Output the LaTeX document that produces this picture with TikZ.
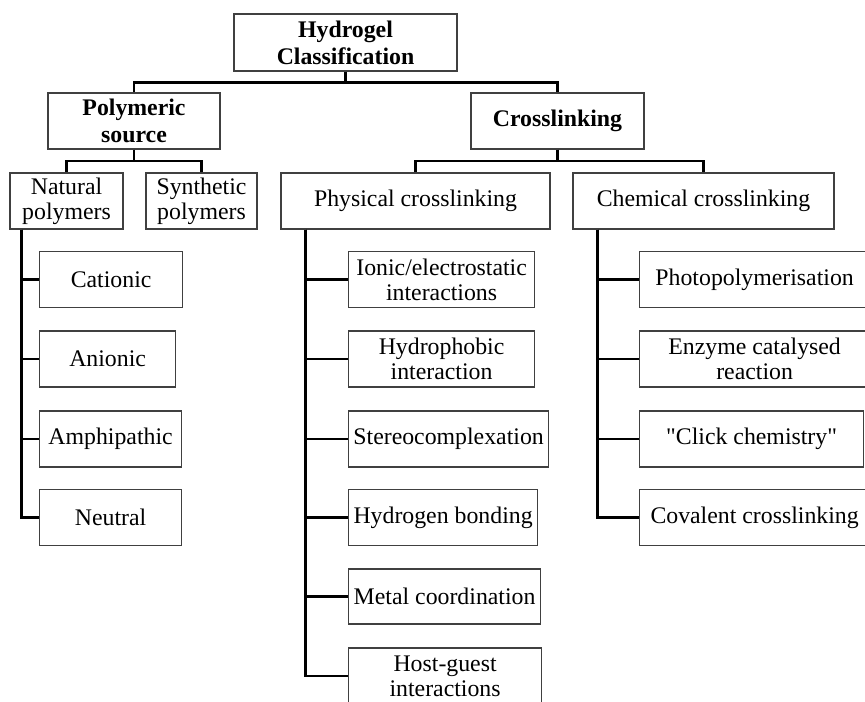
\documentclass[tikz,border=0pt]{standalone}
\usepackage{fontspec}
\setmainfont{Liberation Serif}[Ligatures=TeXOff]
\usetikzlibrary{positioning}

\begin{document}
\begin{tikzpicture}[x=0.5pt,y=-0.5pt,
  box/.style={draw=black!75,line width=0.6pt,align=center,inner sep=0pt,
    font=\fontsize{11.9}{12.6}\selectfont},
  head/.style={box,font=\fontsize{11.9}{13.4}\selectfont\bfseries},
  leaf/.style={box,anchor=west,minimum height=28pt},
  link/.style={line width=1.1pt,black}]
\useasboundingbox (0,0) rectangle (865,701);
\pgfmathsetmacro{\rowa}{279.5}
\pgfmathsetmacro{\rowb}{359}
\pgfmathsetmacro{\rowc}{439}
\pgfmathsetmacro{\rowd}{517.5}
% top levels
\node[head,minimum width=111.5pt,minimum height=28.5pt] (root) at (345.5,42.5) {Hydrogel\\Classification};
\node[head,minimum width=86pt,minimum height=28pt] (poly) at (134,121) {Polymeric\\source};
\node[head,minimum width=86.5pt,minimum height=28pt] (cross) at (557.5,121) {Crosslinking};
\node[box,minimum width=56.5pt,minimum height=28pt] (nat) at (66.5,201) {Natural\\polymers};
\node[box,minimum width=55.5pt,minimum height=28pt] (syn) at (201.5,201) {Synthetic\\polymers};
\node[box,minimum width=134.5pt,minimum height=28pt] (phys) at (415.5,201) {Physical crosslinking};
\node[box,minimum width=130.5pt,minimum height=28pt] (chem) at (703.5,201) {Chemical crosslinking};
% natural polymers
\node[leaf,minimum width=71.5pt] (cat) at (39,\rowa) {Cationic};
\node[leaf,minimum width=68pt] (ani) at (39,\rowb) {Anionic};
\node[leaf,minimum width=71pt] (amp) at (39,\rowc) {Amphipathic};
\node[leaf,minimum width=71pt] (neu) at (39,\rowd) {Neutral};
% physical crosslinking
\node[leaf,minimum width=93pt] (ion) at (348,\rowa) {Ionic/electrostatic\\interactions};
\node[leaf,minimum width=93pt] (hyd) at (348,\rowb) {Hydrophobic\\interaction};
\node[leaf,minimum width=100pt] (ste) at (348,\rowc) {Stereocomplexation};
\node[leaf,minimum width=94.5pt] (hbo) at (348,\rowd) {Hydrogen bonding};
\node[leaf,minimum width=96pt,minimum height=27.5pt] (met) at (348,596.5) {Metal coordination};
\node[leaf,minimum width=96.5pt] (hos) at (348,676) {Host-guest\\interactions};
% chemical crosslinking
\node[leaf,minimum width=115pt] (pho) at (639,\rowa) {Photopolymerisation};
\node[leaf,minimum width=115pt] (enz) at (639,\rowb) {Enzyme catalysed\\reaction};
\node[leaf,minimum width=112pt] (cli) at (639,\rowc) {"Click chemistry"};
\node[leaf,minimum width=115pt] (cov) at (639,\rowd) {Covalent crosslinking};
% connectors
\draw[link] (root.south) -- ++(0,11) -| (poly.north);
\draw[link] (root.south) -- ++(0,11) -| (cross.north);
\draw[link] (poly.south) -- ++(0,11) -| (nat.north);
\draw[link] (poly.south) -- ++(0,11) -| (syn.north);
\draw[link] (cross.south) -- ++(0,11) -| (phys.north);
\draw[link] (cross.south) -- ++(0,11) -| (chem.north);
\foreach \n in {cat,ani,amp,neu}
  \draw[link] (nat.south west) ++(12,0) |- (\n.west);
\foreach \n in {ion,hyd,ste,hbo,met,hos}
  \draw[link] (phys.south west) ++(25,0) |- (\n.west);
\foreach \n in {pho,enz,cli,cov}
  \draw[link] (chem.south west) ++(25,0) |- (\n.west);
\end{tikzpicture}
\end{document}
